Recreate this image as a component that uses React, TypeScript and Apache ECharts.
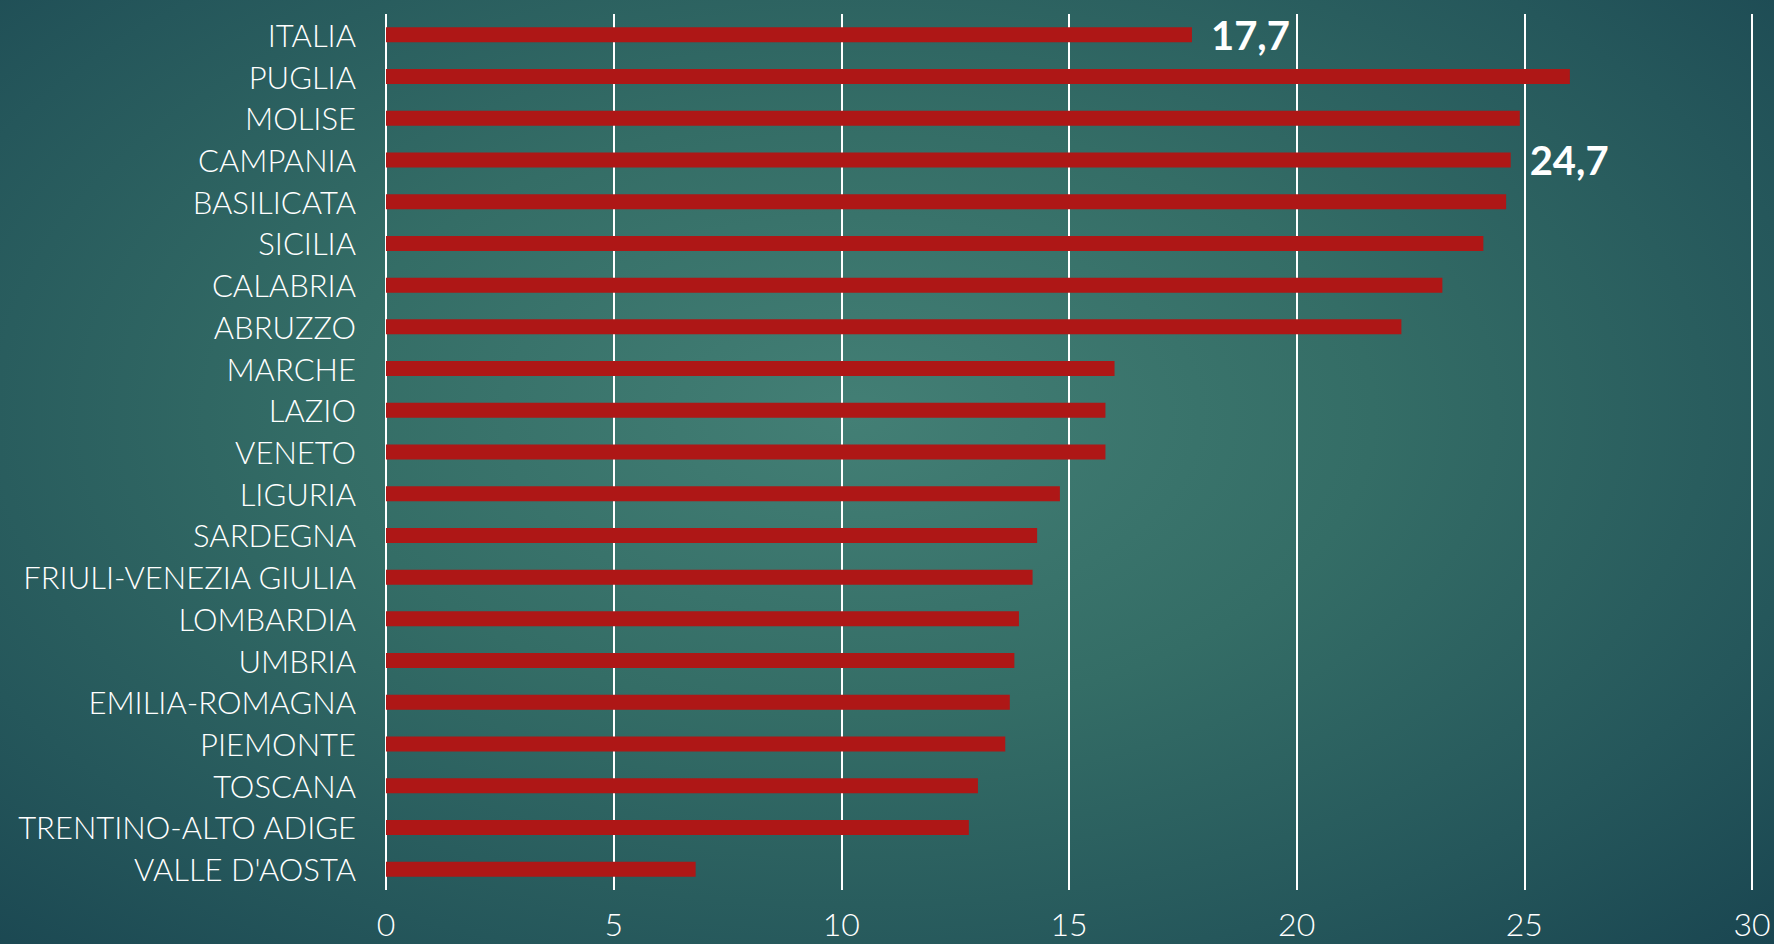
import React, { useEffect, useRef } from "react";
import * as echarts from "echarts";

const regions = [
  "ITALIA", "PUGLIA", "MOLISE", "CAMPANIA", "BASILICATA", "SICILIA", "CALABRIA",
  "ABRUZZO", "MARCHE", "LAZIO", "VENETO", "LIGURIA", "SARDEGNA",
  "FRIULI-VENEZIA GIULIA", "LOMBARDIA", "UMBRIA", "EMILIA-ROMAGNA", "PIEMONTE",
  "TOSCANA", "TRENTINO-ALTO ADIGE", "VALLE D'AOSTA",
];
const values = [
  17.7, 26.0, 24.9, 24.7, 24.6, 24.1, 23.2,
  22.3, 16.0, 15.8, 15.8, 14.8, 14.3,
  14.2, 13.9, 13.8, 13.7, 13.6,
  13.0, 12.8, 6.8,
];
const labelledRegions = ["ITALIA", "CAMPANIA"];
const axisMin = 0;
const axisMax = 30;
const axisStep = 5;

export default function App() {
  const ref = useRef<HTMLDivElement>(null);
  useEffect(() => {
    if (!ref.current) return;
    const chart = echarts.init(ref.current, null, { renderer: "svg" });
    const data = values.map((v, i) => ({
      value: v,
      label: {
        show: labelledRegions.includes(regions[i]),
        position: "right",
        distance: 19,
        color: "#ffffff",
        fontFamily: "Lato",
        fontWeight: "bold",
        fontSize: 40,
        formatter: (p: any) => String(p.value.toFixed(1)).replace(".", ","),
      },
    }));
    chart.setOption({
      animation: false,
      grid: { left: 386, right: 22, top: 14, bottom: 54, containLabel: false },
      xAxis: {
        type: "value",
        min: axisMin,
        max: axisMax,
        interval: axisStep,
        axisLine: { show: false },
        axisTick: { show: false },
        splitLine: { show: true, lineStyle: { color: "#ffffff", width: 2 } },
        axisLabel: {
          color: "#ffffff",
          fontFamily: "Lato",
          fontWeight: 300,
          fontSize: 32,
          margin: 17,
        },
      },
      yAxis: {
        type: "category",
        inverse: true,
        data: regions,
        axisLine: { show: false },
        axisTick: { show: false },
        splitLine: { show: false },
        axisLabel: {
          color: "#ffffff",
          fontFamily: "Lato",
          fontWeight: 300,
          fontSize: 31,
          margin: 30,
        },
      },
      series: [
        {
          type: "bar",
          data,
          barWidth: 15,
          itemStyle: { color: "#ae1716" },
        },
      ],
    });
    return () => chart.dispose();
  }, []);
  return (
    <div
      style={{
        position: "absolute",
        left: 0,
        top: 0,
        width: 1774,
        height: 944,
        background:
          "radial-gradient(ellipse at 48% 44%, #437f75 0%, #346d66 40%, #25575b 75%, #1a4651 100%)",
      }}
    >
      <div ref={ref} style={{ width: 1774, height: 944 }} />
    </div>
  );
}
